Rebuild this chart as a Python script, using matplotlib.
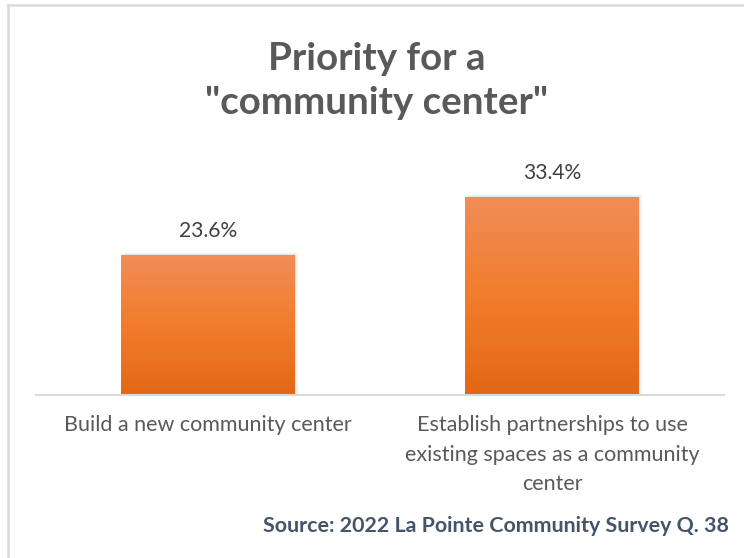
import matplotlib
matplotlib.use("Agg")
import matplotlib.pyplot as plt
import numpy as np
from matplotlib.colors import LinearSegmentedColormap
from matplotlib.lines import Line2D

categories = ["Build a new community center",
              "Establish partnerships to use\nexisting spaces as a community\ncenter"]
values = [23.6, 33.4]
value_labels = ["23.6%", "33.4%"]
title = "Priority for a\n\"community center\""
source = "Source: 2022 La Pointe Community Survey Q. 38"

plt.rcParams['font.family'] = ['Lato', 'DejaVu Sans']

W, H = 744, 558
fig = plt.figure(figsize=(W / 100, H / 100), dpi=100)
fig.patch.set_facecolor("white")

ax = fig.add_axes([36 / W, 164 / H, 688 / W, 236 / H])
ax.set_xlim(-0.5, 1.5)
ax.set_ylim(0, 40)
ax.axis("off")

grad = LinearSegmentedColormap.from_list("og", ["#E36815", "#F27D2C", "#F08D58"])
gimg = np.linspace(0, 1, 256).reshape(-1, 1)
bar_w = 0.503
bars = ax.bar(range(len(values)), values, width=bar_w, color="none", edgecolor="none")
for i, (b, v) in enumerate(zip(bars, values)):
    x0 = b.get_x()
    # soft shadow
    for k, a in enumerate([0.05, 0.035, 0.02]):
        sh = plt.Rectangle((x0 + 0.004 * (k + 1), 0), bar_w, v + 0.15 * (k + 1),
                           color="black", alpha=a, lw=0, zorder=1)
        ax.add_patch(sh)
    im = ax.imshow(gimg, extent=[x0, x0 + bar_w, 0, v], origin="lower",
                   cmap=grad, aspect="auto", zorder=2)
    clip = plt.Rectangle((x0, 0), bar_w, v, transform=ax.transData)
    im.set_clip_path(clip)
    ax.text(i, v + 3.05, value_labels[i], ha="center", va="baseline",
            fontsize=15.1, color="#404040")

ax.set_xlim(-0.5, 1.5)
ax.set_ylim(0, 40)

# category axis line
fig.add_artist(Line2D([36 / W, 724 / W], [1 - 394.5 / H, 1 - 394.5 / H],
                      color="#D9D9D9", lw=1.5))

# category labels
for i, c in enumerate(categories):
    xc = (36 + 172 + 344 * i) / W
    fig.text(xc, 1 - 415 / H, c, ha="center", va="top", fontsize=15.5,
             color="#595959", linespacing=1.6)

fig.text(377 / W, 1 - 81 / H, title, ha="center", va="center", fontsize=27.7,
         fontweight="bold", color="#595959", linespacing=1.35)

fig.text(729 / W, 1 - 526 / H, source, ha="right", va="center", fontsize=15.4,
         fontweight="bold", color="#44546A")

# frame edges
fig.add_artist(Line2D([7.5 / W, 7.5 / W], [0, 1 - 5 / H], color="#D9D9D9", lw=1.8))
fig.add_artist(Line2D([7.5 / W, 1], [1 - 5 / H, 1 - 5 / H], color="#D9D9D9", lw=1.8))

fig.savefig("out.png", dpi=100, facecolor="white")
